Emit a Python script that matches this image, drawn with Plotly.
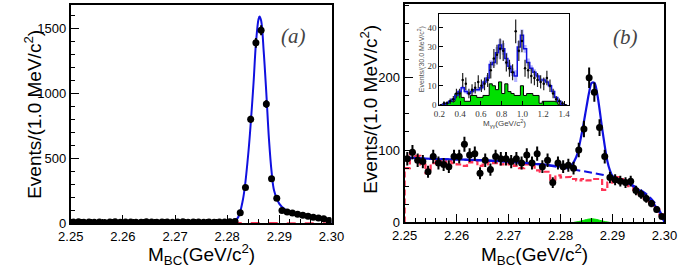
import numpy as np
import plotly.graph_objects as go

W, H = 690, 278

# ---------------- panel (a) ----------------
A_LO, A_HI, A_NB = 2.25, 2.30, 50
a_counts = [10, 12, 8, 10, 9, 11, 7, 10, 12, 9, 10, 11, 8, 9, 12, 10, 9, 11, 10, 8,
            10, 12, 9, 10, 11, 8, 10, 9, 11, 10, 12, 15,
            82, 276, 800, 1388, 1485, 918, 343, 194, 100, 88, 80, 70, 62, 55, 48, 42, 35, 22]
a_fit_x = [2.250, 2.260, 2.270, 2.278, 2.281, 2.282, 2.283, 2.284, 2.285, 2.2855, 2.286, 2.2862,
           2.2865, 2.287, 2.2875, 2.288, 2.2885, 2.289, 2.290, 2.291, 2.292, 2.293, 2.294, 2.295,
           2.296, 2.297, 2.298, 2.299, 2.2995, 2.300]
a_fit_y = [8, 8, 8, 9, 12, 40, 180, 520, 1050, 1380, 1570, 1590, 1560, 1320, 1000, 650, 400, 250,
           150, 110, 92, 80, 70, 62, 53, 45, 35, 22, 14, 5]
a_bkg_x = [2.250, 2.270, 2.290, 2.296, 2.299, 2.300]
a_bkg_y = [8, 8, 7, 6, 3, 0]

# ---------------- panel (b) ----------------
B_LO, B_HI, B_NB = 2.25, 2.30, 50
b_counts = [88, 97, 86, 84, 70, 91, 82, 80, 77, 91, 91, 108, 93, 95, 68, 86, 73, 91, 88, 88,
            84, 88, 82, 93, 82, 95, 77, 86, 55, 82, 77, 79, 75, 100, 129, 200, 180, 131, 91, 62,
            59, 57, 55, 57, 44, 39, 33, 26, 18, 8]
b_mc = [75, 95, 92, 80, 68, 82, 85, 80, 85, 82, 80, 78, 83, 85, 78, 80, 84, 82, 80, 83,
        80, 78, 75, 80, 78, 72, 70, 70, 59, 65, 62, 63, 60, 58, 60, 58, 60, 60, 45, 55,
        63, 62, 55, 50, 45, 39, 33, 25, 18, 11]
b_fit_x = [2.250, 2.255, 2.260, 2.265, 2.270, 2.275, 2.278, 2.280, 2.2815, 2.282, 2.283, 2.284,
           2.285, 2.2855, 2.286, 2.2865, 2.287, 2.288, 2.289, 2.2895, 2.290, 2.291, 2.292, 2.293,
           2.294, 2.295, 2.296, 2.297, 2.298, 2.299, 2.2995, 2.300]
b_fit_y = [90, 88, 87, 86, 84, 81, 79, 77, 76, 78, 90, 120, 160, 180, 193, 193, 180, 130, 85, 72,
           64, 60, 57, 54, 50, 45, 40, 33, 25, 15, 9, 0]
b_bkg_x = [2.250, 2.260, 2.270, 2.275, 2.280, 2.285, 2.288, 2.290, 2.292, 2.294, 2.296, 2.297,
           2.298, 2.299, 2.2995, 2.300]
b_bkg_y = [89, 87, 84, 81, 76, 70, 66, 63, 58, 51, 42, 36, 28, 17, 10, 0]
b_peak_x = [2.2825, 2.284, 2.285, 2.286, 2.287, 2.288, 2.2895]
b_peak_y = [0, 2, 4, 5, 4, 2, 0]

# ---------------- inset ----------------
I_LO, I_W, I_NB = 0.20, 0.03, 41
i_fit = [0, 0.5, 1, 2, 3, 5, 7, 9, 7, 6, 7, 8, 8, 9, 12, 14, 21, 22, 27, 31, 29, 24, 20, 17,
         15, 30, 36, 29, 22, 19, 17, 15, 13, 13, 12, 10, 7, 4, 2, 0.5, 0]
i_unc = [0, 0.3, 0.5, 0.5, 0.5, 0.8, 1, 1, 1, 1, 1, 1, 1, 1, 1, 1.5, 2, 2, 3, 3, 3, 3, 2, 2,
         3, 3, 3, 2, 2, 1.5, 1.5, 1, 1, 1, 1, 1, 1, 0.5, 0.5, 0.3, 0]
i_green = [0, 0, 1, 2, 2, 6, 7, 4, 2, 2, 5, 5, 4, 4, 5, 5, 11, 10, 8, 12, 6, 11, 7, 6,
           5, 5, 10, 5, 6, 6, 5, 5, 1, 2, 2, 2, 2, 2, 0.5, 0, 0]
i_data = [0, 1, 1, 2, 3, 6, 6, 13, 11, 6, 8, 9, 12, 10, 11, 13, 18, 24, 26, 29, 28, 22, 19, 17,
          38, 28, 33, 19, 18, 15, 14, 13, 12, 11, 14, 10, 6, 3, 2, 1, 0]

BLACK = "black"
BLUE = "#1010e0"
RED = "#ff3355"
GREEN = "#00e000"

fig = go.Figure()


def hist_steps(lo, width, vals):
    edges = lo + width * np.arange(len(vals) + 1)
    xs = [edges[0]]
    ys = [0]
    for k, v in enumerate(vals):
        xs += [edges[k], edges[k + 1]]
        ys += [v, v]
    xs.append(edges[-1])
    ys.append(0)
    return xs, ys


# ---- panel (a)
aw = (A_HI - A_LO) / A_NB
ax_c = A_LO + aw * (np.arange(A_NB) + 0.5)
fig.add_trace(go.Scatter(x=a_bkg_x, y=a_bkg_y, mode="lines", line=dict(color=RED, width=1.5, dash="dash"),
                         xaxis="x", yaxis="y", showlegend=False))
fig.add_trace(go.Scatter(x=a_fit_x, y=a_fit_y, mode="lines", line=dict(color=BLUE, width=2, shape="spline"),
                         xaxis="x", yaxis="y", showlegend=False))
fig.add_trace(go.Scatter(x=ax_c, y=a_counts, mode="markers",
                         marker=dict(color=BLACK, size=7),
                         error_y=dict(type="data", array=np.sqrt(a_counts), color=BLACK, thickness=2, width=0),
                         error_x=dict(type="constant", value=aw / 2, color=BLACK, thickness=2, width=0),
                         xaxis="x", yaxis="y", showlegend=False))

# ---- panel (b)
bw = (B_HI - B_LO) / B_NB
bx_c = B_LO + bw * (np.arange(B_NB) + 0.5)
hx, hy = hist_steps(B_LO, bw, b_mc)
fig.add_trace(go.Scatter(x=b_peak_x, y=b_peak_y, mode="lines", fill="tozeroy", fillcolor=GREEN,
                         line=dict(color=GREEN, width=1, shape="spline"), xaxis="x2", yaxis="y2", showlegend=False))
fig.add_trace(go.Scatter(x=hx, y=hy, mode="lines", line=dict(color=RED, width=2.2, dash="6px,3px"),
                         xaxis="x2", yaxis="y2", showlegend=False))
fig.add_trace(go.Scatter(x=b_bkg_x, y=b_bkg_y, mode="lines", line=dict(color=BLUE, width=2, dash="8px,4px", shape="spline"),
                         xaxis="x2", yaxis="y2", showlegend=False))
fig.add_trace(go.Scatter(x=b_fit_x, y=b_fit_y, mode="lines", line=dict(color=BLUE, width=2.2, shape="spline"),
                         xaxis="x2", yaxis="y2", showlegend=False))
fig.add_trace(go.Scatter(x=bx_c, y=b_counts, mode="markers",
                         marker=dict(color=BLACK, size=7),
                         error_y=dict(type="data", array=np.sqrt(b_counts), color=BLACK, thickness=2, width=0),
                         error_x=dict(type="constant", value=bw / 2, color=BLACK, thickness=2, width=0),
                         xaxis="x2", yaxis="y2", showlegend=False))

# ---- inset
ix_c = I_LO + I_W * (np.arange(I_NB) + 0.5)
gx, gy = hist_steps(I_LO, I_W, i_green)
fig.add_trace(go.Scatter(x=gx, y=gy, mode="lines", fill="tozeroy", fillcolor=GREEN,
                         line=dict(color=BLACK, width=1), xaxis="x3", yaxis="y3", showlegend=False))
fig.add_trace(go.Bar(x=ix_c, y=[2 * u for u in i_unc], base=[f - u for f, u in zip(i_fit, i_unc)],
                     width=I_W, marker=dict(color="rgba(90,90,255,0.45)", line=dict(width=0)),
                     xaxis="x3", yaxis="y3", showlegend=False))
fx, fy = hist_steps(I_LO, I_W, i_fit)
fig.add_trace(go.Scatter(x=fx, y=fy, mode="lines", line=dict(color=BLUE, width=1.5),
                         xaxis="x3", yaxis="y3", showlegend=False))
fig.add_trace(go.Scatter(x=ix_c, y=i_data, mode="markers",
                         marker=dict(color=BLACK, size=2.5),
                         error_y=dict(type="data", array=np.sqrt(i_data), color="#222", thickness=1.2, width=0),
                         xaxis="x3", yaxis="y3", showlegend=False))

TICKF = dict(family="Liberation Sans, Arial, sans-serif", size=13, color="black")


def main_x(domain, anchor):
    return dict(domain=domain, anchor=anchor, range=[2.25, 2.30], tickvals=[2.25, 2.26, 2.27, 2.28, 2.29, 2.30],
                ticktext=["2.25", "2.26", "2.27", "2.28", "2.29", "2.30"], ticks="inside", ticklen=8,
                tickwidth=1, tickcolor="black", showline=True, linecolor="black", linewidth=2, mirror=True,
                showgrid=False, zeroline=False, tickfont=TICKF, ticklabelstandoff=0,
                minor=dict(ticks="inside", dtick=0.002, ticklen=4, tickcolor="black", showgrid=False))


fig.update_layout(
    width=W, height=H, margin=dict(l=0, r=0, t=0, b=0),
    paper_bgcolor="white", plot_bgcolor="white", barmode="overlay",
    xaxis=main_x([60 / W, 331 / W], "y"),
    yaxis=dict(domain=[1 - 230 / H, 1 - 5 / H], anchor="x", range=[0, 1680], tickvals=[0, 500, 1000, 1500],
               ticks="inside", ticklen=8, tickcolor="black", showline=True, linecolor="black", linewidth=2,
               mirror=True, showgrid=False, zeroline=False, tickfont=TICKF, ticklabelstandoff=0,
               minor=dict(ticks="inside", dtick=100, ticklen=4, tickcolor="black", showgrid=False)),
    xaxis2=main_x([407 / W, 677 / W], "y2"),
    yaxis2=dict(domain=[1 - 229 / H, 1 - 4 / H], anchor="x2", range=[0, 302], tickvals=[0, 100, 200],
                ticks="inside", ticklen=8, tickcolor="black", showline=True, linecolor="black", linewidth=2,
                mirror=True, showgrid=False, zeroline=False, tickfont=TICKF, ticklabelstandoff=0,
                minor=dict(ticks="inside", dtick=25, ticklen=4, tickcolor="black", showgrid=False)),
    xaxis3=dict(domain=[443 / W, 578 / W], anchor="y3", range=[0.2, 1.45],
                tickvals=[0.2, 0.4, 0.6, 0.8, 1.0, 1.2, 1.4], ticktext=["0.2", "0.4", "0.6", "0.8", "1.0", "1.2", "1.4"],
                ticks="inside", ticklen=4, tickcolor="black", showline=True, linecolor="black", linewidth=1,
                mirror=True, showgrid=False, zeroline=False,
                tickfont=dict(family="Liberation Serif, serif", size=9, color="#333"), ticklabelstandoff=0),
    yaxis3=dict(domain=[1 - 108.3 / H, 1 - 14.3 / H], anchor="x3", range=[0, 47], tickvals=[0, 10, 20, 30, 40],
                ticks="inside", ticklen=4, tickcolor="black", showline=True, linecolor="black", linewidth=1,
                mirror=True, showgrid=False, zeroline=False,
                tickfont=dict(family="Liberation Serif, serif", size=9, color="#333"), ticklabelstandoff=0),
)

TITLEF = dict(family="Liberation Sans, Arial, sans-serif", size=19, color="black")
ann = [
    dict(x=196 / W, y=1 - 262 / H, text="M<sub>BC</sub>(GeV/c<sup>2</sup>)", font=TITLEF),
    dict(x=542 / W, y=1 - 262 / H, text="M<sub>BC</sub>(GeV/c<sup>2</sup>)", font=TITLEF),
    dict(x=20 / W, y=1 - 118 / H, text="Events/(1.0 MeV/c<sup>2</sup>)", font=TITLEF, textangle=-90),
    dict(x=370 / W, y=1 - 113 / H, text="Events/(1.0 MeV/c<sup>2</sup>)", font=TITLEF, textangle=-90),
    dict(x=291 / W, y=1 - 37 / H, text="<i>(a)</i>", font=dict(family="Liberation Serif, serif", size=21, color="#444")),
    dict(x=637 / W, y=1 - 38 / H, text="<i>(b)</i>", font=dict(family="Liberation Serif, serif", size=21, color="#444")),
    dict(x=511 / W, y=1 - 127 / H, text="M<sub>γγ</sub>(GeV/c<sup>2</sup>)",
         font=dict(family="Liberation Sans, Arial, sans-serif", size=8, color="#444")),
    dict(x=424 / W, y=1 - 61 / H, text="Events/(30.0 MeV/c<sup>2</sup>)", textangle=-90,
         font=dict(family="Liberation Sans, Arial, sans-serif", size=7, color="#555")),
]
for a in ann:
    a.update(xref="paper", yref="paper", showarrow=False, xanchor="center", yanchor="middle")
fig.update_layout(annotations=ann)

fig.write_html("out.html")
